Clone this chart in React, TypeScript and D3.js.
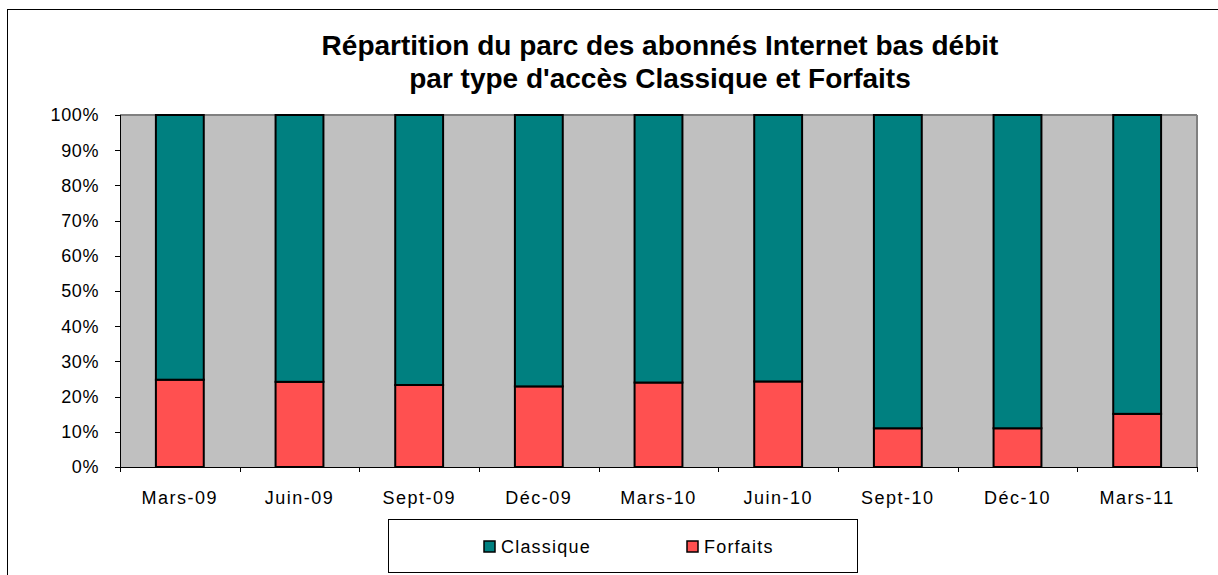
import * as d3 from "d3"
import React from "react"

const categories = ["Mars-09", "Juin-09", "Sept-09", "Déc-09", "Mars-10", "Juin-10", "Sept-10", "Déc-10", "Mars-11"]
const forfaits = [24.8, 24.2, 23.3, 22.9, 24.0, 24.3, 11.0, 11.0, 15.1]
const classique = [75.2, 75.8, 76.7, 77.1, 76.0, 75.7, 89.0, 89.0, 84.9]
const yTicks = [0, 10, 20, 30, 40, 50, 60, 70, 80, 90, 100]
const seriesNames = ["Classique", "Forfaits"]
const colors = { Classique: "#008080", Forfaits: "#FF5050" }

const W = 1218
const H = 575
const plot = { left: 120, right: 1197, top: 115, bottom: 467 }
const font = "Arial, 'Liberation Sans', sans-serif"

export default function App() {
  const x = d3.scaleBand().domain(categories).range([plot.left, plot.right]).padding(0)
  const y = d3.scaleLinear().domain([0, 100]).range([plot.bottom, plot.top])
  const bw = x.bandwidth() * 0.4

  const rows = categories.map((c, i) => ({ cat: c, Forfaits: forfaits[i], Classique: classique[i] }))
  const stacked = d3.stack().keys(["Forfaits", "Classique"])(rows as any)

  return (
    <svg
      width={W}
      height={H}
      viewBox={`0 0 ${W} ${H}`}
      style={{ position: "absolute", left: 0, top: 0, background: "#fff" }}
      fontFamily={font}
    >
      {/* outer frame, only left and top visible */}
      <line x1={7.5} x2={7.5} y1={9} y2={H} stroke="#000" />
      <line x1={7} x2={W} y1={9.5} y2={9.5} stroke="#000" />

      <text x={660} y={55} textAnchor="middle" fontSize={28} fontWeight="bold">
        Répartition du parc des abonnés Internet bas débit
      </text>
      <text x={660} y={88} textAnchor="middle" fontSize={28} fontWeight="bold">
        par type d'accès Classique et Forfaits
      </text>

      {/* plot area */}
      <rect x={plot.left} y={plot.top} width={plot.right - plot.left} height={plot.bottom - plot.top} fill="#C0C0C0" />
      <line x1={plot.left} x2={plot.right} y1={plot.top} y2={plot.top} stroke="#808080" strokeWidth={2} />
      <line x1={plot.right} x2={plot.right} y1={plot.top} y2={plot.bottom} stroke="#808080" strokeWidth={2} />

      {stacked.map((s) => (
        <g key={s.key}>
          {s.map((d, i) => (
            <rect
              key={i}
              x={x(categories[i])! + (x.bandwidth() - bw) / 2}
              y={y(d[1])}
              width={bw}
              height={y(d[0]) - y(d[1])}
              fill={(colors as any)[s.key]}
              stroke="#000"
              strokeWidth={2}
            />
          ))}
        </g>
      ))}

      {/* y axis */}
      <line x1={plot.left + 0.5} x2={plot.left + 0.5} y1={plot.top} y2={plot.bottom} stroke="#000" />
      {yTicks.map((t) => (
        <g key={t}>
          <line x1={plot.left - 5} x2={plot.left} y1={Math.round(y(t)) + 0.5} y2={Math.round(y(t)) + 0.5} stroke="#000" />
          <text x={plot.left - 21} y={y(t)} dy="0.36em" textAnchor="end" fontSize={18} letterSpacing={0.6}>
            {t}%
          </text>
        </g>
      ))}

      {/* x axis */}
      <line x1={plot.left - 5} x2={plot.right} y1={plot.bottom + 0.5} y2={plot.bottom + 0.5} stroke="#000" />
      {[...categories.map((c) => x(c)!), plot.right].map((px, i) => (
        <line key={i} x1={Math.round(px) + 0.5} x2={Math.round(px) + 0.5} y1={plot.bottom} y2={plot.bottom + 5} stroke="#000" />
      ))}
      {categories.map((c) => (
        <text key={c} x={x(c)! + x.bandwidth() / 2} y={504} textAnchor="middle" fontSize={18} letterSpacing={1.5}>
          {c}
        </text>
      ))}

      {/* legend */}
      <rect x={388.5} y={519.5} width={469} height={53} fill="#fff" stroke="#000" />
      {seriesNames.map((n, i) => {
        const lx = i === 0 ? 484 : 687
        return (
          <g key={n}>
            <rect x={lx} y={541} width={11} height={11} fill={(colors as any)[n]} stroke="#000" strokeWidth={1.5} />
            <text x={lx + 17} y={553} fontSize={18} letterSpacing={1.2}>
              {n}
            </text>
          </g>
        )
      })}
    </svg>
  )
}
